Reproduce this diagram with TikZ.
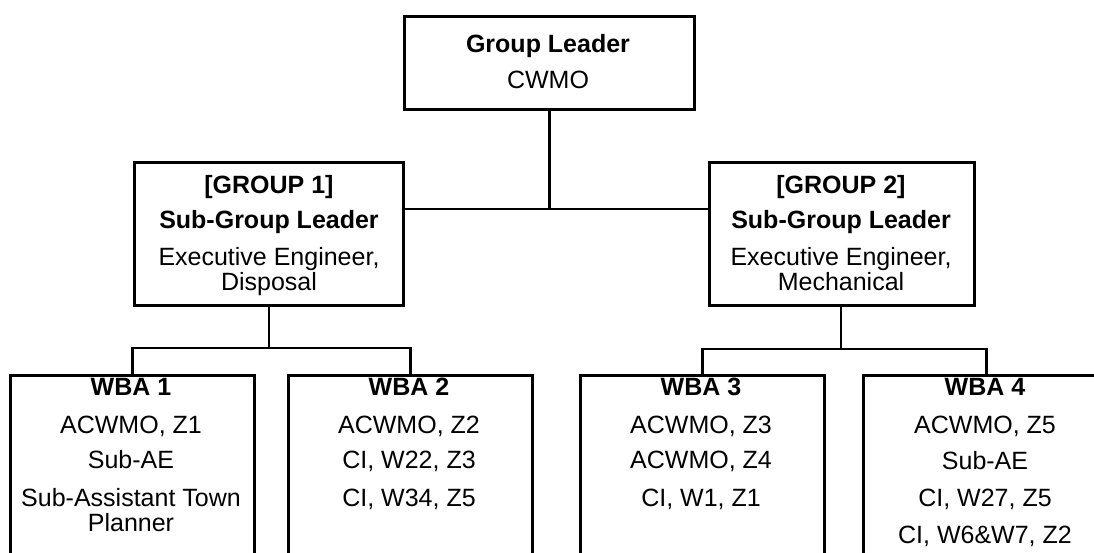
\documentclass[tikz,border=0pt]{standalone}
\usepackage{fontspec}
\setmainfont{Liberation Sans}
\begin{document}
\begin{tikzpicture}[x={(1pt,0pt)}, y={(0pt,-1pt)},
  box/.style={draw=black, line width=2.7pt, fill=none, inner sep=0pt, anchor=north west},
  txt/.style={align=center, inner sep=0pt, anchor=north, text=black,
              font=\fontsize{25}{25}\selectfont},
  wire/.style={draw=black, line width=2.6pt}]
\useasboundingbox (0,0) rectangle (1094,552);
\clip (0,0) rectangle (1094,552);

% boxes
\node[box, minimum width=290pt, minimum height=93pt]  (top) at (403,15)  {};
\node[box, minimum width=269pt, minimum height=143pt] (g1)  at (133,161) {};
\node[box, minimum width=265pt, minimum height=143pt] (g2)  at (708,161) {};
\node[box, minimum width=244pt, minimum height=220pt] (w1)  at (9,374)   {};
\node[box, minimum width=244pt, minimum height=220pt] (w2)  at (287,374) {};
\node[box, minimum width=244pt, minimum height=220pt] (w3)  at (579,374) {};
\node[box, minimum width=246pt, minimum height=220pt] (w4)  at (862,374) {};

% texts
\node[txt] (ttop) at (548,34) {\textbf{Group Leader}\\[11pt]CWMO};
\node[txt] (tg1) at (269,175) {\textbf{[GROUP 1]}\\[10pt]\textbf{Sub-Group Leader}\\[12pt]Executive Engineer,\\Disposal};
\node[txt] (tg2) at (841,175) {\textbf{[GROUP 2]}\\[10pt]\textbf{Sub-Group Leader}\\[12pt]Executive Engineer,\\Mechanical};
\node[txt] (tw1) at (131,378) {\textbf{WBA 1}\\[13pt]ACWMO, Z1\\[10pt]Sub-AE\\[13pt]Sub-Assistant Town\\Planner};
\node[txt] (tw2) at (409,378) {\textbf{WBA 2}\\[13pt]ACWMO, Z2\\[10pt]CI, W22, Z3\\[13pt]CI, W34, Z5};
\node[txt] (tw3) at (701,378) {\textbf{WBA 3}\\[13pt]ACWMO, Z3\\[10pt]ACWMO, Z4\\[13pt]CI, W1, Z1};
\node[txt] (tw4) at (985,378) {\textbf{WBA 4}\\[13pt]ACWMO, Z5\\[11pt]Sub-AE\\[12pt]CI, W27, Z5\\[12pt]CI, W6\&W7, Z2};

% junction points of the connectors
\coordinate (j0) at (548,209);
\coordinate (j1) at (269,348);
\coordinate (j2) at (841,349);

% connectors
\draw[wire] (top.south) -- (top.south |- j0);
\draw[wire] (g1.east |- j0) -- (g2.west |- j0);
\draw[wire] (g1.south -| j1) -- (j1);
\draw[wire] (w1.north) -- (w1.north |- j1) -- (w2.north |- j1) -- (w2.north);
\draw[wire] (g2.south -| j2) -- (j2);
\draw[wire] (w3.north) -- (w3.north |- j2) -- (w4.north |- j2) -- (w4.north);
\end{tikzpicture}
\end{document}
